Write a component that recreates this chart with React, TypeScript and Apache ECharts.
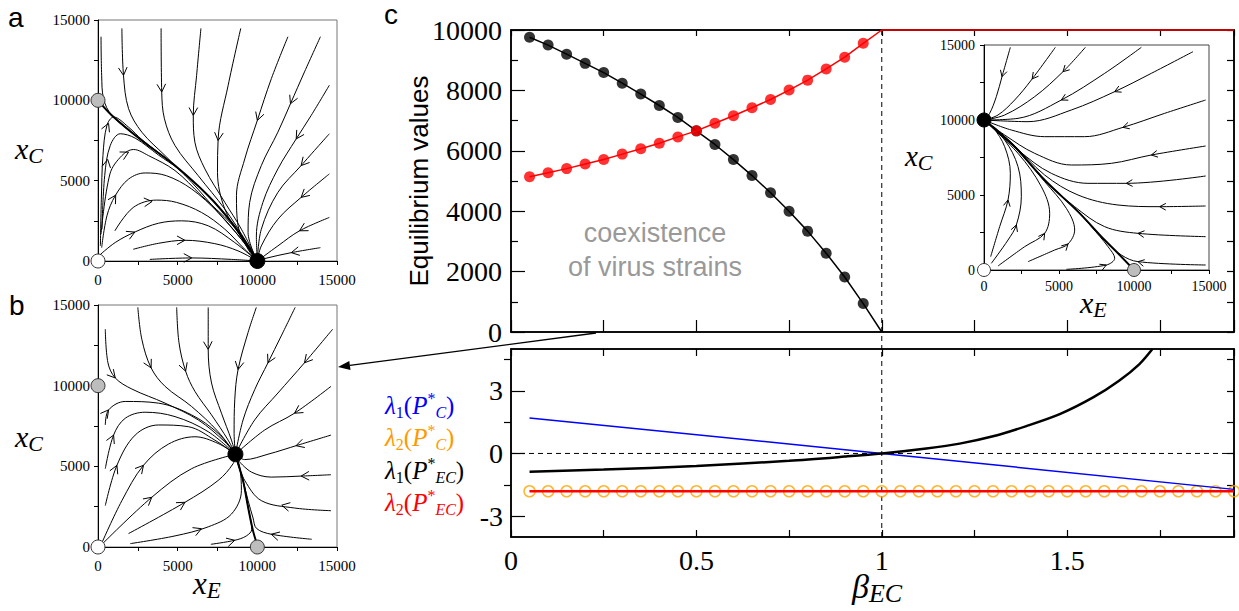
import React, { useEffect, useRef } from 'react';
import * as echarts from 'echarts';

const SERIF = 'Liberation Serif, Times New Roman, serif';
const SANS = 'Liberation Sans, Arial, sans-serif';

// ---------- panel c (top): equilibrium values ----------
const betaDots = [0.05, 0.1, 0.15, 0.2, 0.25, 0.3, 0.35, 0.4, 0.45, 0.5, 0.55, 0.6, 0.65, 0.7, 0.75, 0.8, 0.85, 0.9, 0.95];
const blackDots = [9760, 9500, 9200, 8895, 8590, 8240, 7880, 7500, 7105, 6660, 6210, 5710, 5180, 4610, 4000, 3340, 2610, 1820, 940];
const redDots = [5140, 5270, 5410, 5560, 5710, 5890, 6070, 6250, 6460, 6660, 6910, 7160, 7425, 7700, 8010, 8340, 8710, 9100, 9560];
const blackTail = [[1, 0]];
const redTail = [[1, 10000], [1.95, 10000]];
const transitionTop = [[1, 10000], [1, -560]];

// ---------- panel c (bottom): eigenvalues ----------
const lam1C = [[0.05, 1.7], [1, 0], [1.95, -1.72]];
const lam1EC = [[0.05, -0.88], [0.25, -0.77], [0.5, -0.6], [0.75, -0.35], [0.9, -0.15], [1, 0], [1.12, 0.24], [1.21, 0.47], [1.3, 0.82], [1.39, 1.31], [1.48, 1.88], [1.57, 2.68], [1.64, 3.48], [1.695, 4.28], [1.73, 5.0]];
const lam2EC = [[0.05, -1.81], [1.95, -1.81]];
const betaCircles = [0.05, 0.1, 0.15, 0.2, 0.25, 0.3, 0.35, 0.4, 0.45, 0.5, 0.55, 0.6, 0.65, 0.7, 0.75, 0.8, 0.85, 0.9, 0.95, 1.0, 1.05, 1.1, 1.15, 1.2, 1.25, 1.3, 1.35, 1.4, 1.45, 1.5, 1.55, 1.6, 1.65, 1.7, 1.75, 1.8, 1.85, 1.9, 1.95];
const lam2CVals = [-1.81, -1.81, -1.81, -1.81, -1.81, -1.81, -1.81, -1.81, -1.81, -1.81, -1.81, -1.81, -1.81, -1.81, -1.81, -1.81, -1.81, -1.81, -1.81, -1.81, -1.81, -1.81, -1.81, -1.81, -1.81, -1.81, -1.81, -1.81, -1.81, -1.81, -1.81, -1.81, -1.81, -1.81, -1.81, -1.81, -1.81, -1.81, -1.81];
const zeroLine = [[0, 0], [1.95, 0]];
const transitionLow = [[1, -4], [1, 5]];
const lowMajorTicks = [-3, 0, 3];
const lowMinorTicks = [-1.5, 1.5, 4.5];
const lowAllTicks = [-3, -1.5, 0, 1.5, 3, 4.5];
const lowXLabels = [0, 0.5, 1, 1.5];

// ---------- panel a: streamlines ----------
const streamsA = [
  [[0, 10000], [875, 9060], [2750, 7500], [4830, 5940], [6920, 4060], [8380, 2400], [9420, 940], [10000, 0]],
  [[190, 13960], [230, 11560], [350, 10100], [875, 9060], [2750, 7500], [4830, 5940], [6920, 4060], [8380, 2400], [9420, 940], [10000, 0]],
  [[1500, 14480], [1600, 11560], [1920, 9480], [2750, 8020], [4210, 6560], [5880, 4900], [7540, 3020], [9000, 1350], [10000, 0]],
  [[3960, 14480], [4000, 10520], [4170, 8850], [4830, 7190], [6290, 5310], [7960, 3230], [9210, 1350], [10000, 0]],
  [[6460, 14480], [6190, 11560], [5980, 9060], [6080, 7400], [6710, 5730], [7960, 3650], [9000, 1980], [10000, 0]],
  [[8960, 14480], [8170, 10940], [7540, 7600], [7500, 5520], [7960, 3230], [9000, 1450], [10000, 0]],
  [[11920, 13960], [10880, 11350], [10000, 8750], [9210, 6350], [8690, 4060], [8790, 2190], [9420, 730], [10000, 0]],
  [[13960, 13960], [12960, 11770], [12080, 9790], [11290, 8020], [10250, 5940], [9520, 3650], [9420, 1770], [10000, 0]],
  [[14520, 10940], [13380, 9060], [12440, 7600], [11290, 5730], [10350, 3650], [9940, 1560], [10000, 0]],
  [[14520, 7920], [12750, 5940], [11290, 4270], [10250, 1980], [10000, 0]],
  [[14520, 5420], [12750, 3960], [11290, 2600], [10250, 940], [10000, 0]],
  [[14520, 2710], [12650, 1880], [11290, 940], [10000, 0]],
  [[13960, 830], [12130, 520], [10460, 150], [10000, 0]],
  [[150, 940], [210, 3850], [310, 6560], [560, 8440], [980, 8960], [1920, 8330], [2750, 7560], [4830, 5940], [6920, 4060], [8380, 2400], [9420, 940], [10000, 0]],
  [[250, 1980], [420, 5310], [770, 7190], [1400, 7920], [2330, 7650], [3790, 6600], [5040, 5730], [6920, 4060], [8380, 2400], [9420, 940], [10000, 0]],
  [[190, 1670], [750, 5420], [1500, 6560], [2230, 6940], [3170, 6560], [4830, 5630], [6500, 4060], [8380, 2290], [9420, 900], [10000, 0]],
  [[230, 830], [560, 2810], [1080, 4060], [1920, 5100], [2960, 5480], [4290, 5310], [5880, 4480], [7540, 3020], [9000, 1350], [10000, 0]],
  [[1060, 1880], [2210, 3330], [3670, 3790], [4920, 3650], [6500, 3020], [7960, 1980], [9210, 730], [10000, 0]],
  [[40, 310], [1080, 1150], [2330, 1810], [3790, 2350], [5250, 2500], [6920, 2190], [8580, 1150], [10000, 0]],
  [[2210, 730], [3790, 1100], [5460, 1290], [7330, 1080], [8790, 630], [10000, 0]],
  [[3250, 100], [5880, 190], [8380, 100], [10000, 0]],
];
const arrowsA = [
  [1650, 11560, 2], [4000, 10520, 3], [5980, 9060, 4], [7540, 7500, 5], [10000, 8750, 6], [12080, 9790, 7],
  [12440, 7600, 8], [12750, 5940, 9], [12750, 3960, 10], [12650, 1880, 11], [12130, 520, 12], [560, 8650, 13],
  [460, 6350, 14], [1920, 6770, 15], [1290, 3960, 16], [3380, 3750, 17], [2330, 1770, 18], [5460, 1250, 19], [5880, 190, 20],
];
const eqAGrey = [[0, 10000]];
const eqAWhite = [[0, 0]];
const eqABlack = [[10000, 0]];

// ---------- panel b: streamlines ----------
const streamsB = [
  [[10040, 0], [9730, 1000], [9420, 2460], [9100, 4130], [8790, 5170], [8625, 5750]],
  [[458, 13500], [625, 11417], [1083, 10479], [2125, 9792], [4208, 8917], [6292, 7875], [7958, 6521], [8625, 5750]],
  [[2500, 14854], [2750, 12875], [3333, 11104], [4208, 9958], [5875, 8708], [7542, 7146], [8625, 5750]],
  [[4938, 14854], [5083, 12667], [5500, 10896], [6083, 9646], [7125, 8188], [8167, 6625], [8625, 5750]],
  [[6917, 14854], [6917, 12250], [7125, 10167], [7750, 8292], [8375, 6625], [8625, 5750]],
  [[9938, 14854], [9417, 13292], [8792, 11000], [8583, 9125], [8542, 7042], [8625, 5750]],
  [[12375, 14854], [11500, 13083], [10667, 11417], [9833, 9750], [9104, 7875], [8625, 5750]],
  [[14729, 13500], [12958, 11417], [11292, 9542], [9833, 7875], [8625, 5750]],
  [[14625, 9958], [12333, 8292], [10458, 7250], [8625, 5750]],
  [[14625, 6938], [12542, 6313], [10667, 5750], [9208, 5417], [8625, 5750]],
  [[14625, 4479], [12750, 4396], [10875, 4333], [9625, 4646], [8792, 5375]],
  [[14625, 2250], [12333, 2417], [10250, 2875], [9208, 4125], [8792, 5167]],
  [[13417, 479], [10875, 792], [9950, 1150], [9730, 1800], [9420, 2880], [9100, 4130], [8790, 5170], [8625, 5750]],
  [[458, 7563], [667, 8500], [1708, 9021], [3792, 8917], [5875, 8188], [7542, 7042], [8625, 5750]],
  [[458, 4854], [979, 6938], [1708, 7979], [2958, 8354], [4833, 8083], [6917, 7146], [8625, 5750]],
  [[458, 2563], [1188, 5063], [2333, 6938], [3792, 7563], [5667, 7458], [7333, 6625], [8625, 5750]],
  [[250, 271], [1500, 2875], [2854, 5063], [4417, 6375], [6083, 6833], [7542, 6417], [8625, 5750]],
  [[250, 167], [3375, 3083], [5875, 4854], [8625, 5750]],
  [[1917, 833], [5458, 2771], [7542, 4125], [8479, 5167], [8625, 5750]],
  [[2021, 208], [4833, 688], [6917, 1250], [8375, 2042], [9000, 3500], [8896, 4958], [8625, 5750]],
  [[7083, 167], [8583, 417], [9313, 688], [9650, 1100], [9420, 2460], [9100, 4130], [8790, 5170], [8625, 5750]],
];
const arrowsB = [
  [1083, 10479, 1], [3333, 11104, 2], [5500, 10896, 3], [6917, 12250, 4], [8792, 11000, 5], [10667, 11417, 6],
  [12958, 11417, 7], [12333, 8292, 8], [12438, 6250, 9], [12750, 4396, 10], [11500, 2458, 11], [10875, 792, 12],
  [667, 8500, 13], [979, 6938, 14], [1188, 5063, 15], [2854, 5063, 16], [3375, 3083, 17], [5458, 2771, 18],
  [6500, 1104, 19], [8583, 417, 20],
];
const eqBGrey = [[0, 10000], [10000, 0]];
const eqBWhite = [[0, 0]];
const eqBBlack = [[8625, 5750]];

// ---------- inset: streamlines ----------
const streamsI = [
  [[10000, 0], [8933, 1111], [8044, 2000], [6267, 3889], [4044, 6000], [2044, 8222], [711, 9444], [0, 10000]],
  [[1756, 14844], [1200, 12889], [822, 11556], [378, 10444], [0, 10000]],
  [[4756, 14844], [3156, 12667], [2044, 11333], [933, 10333], [0, 10000]],
  [[6756, 14844], [5267, 13222], [3378, 11556], [1378, 10333], [0, 10000]],
  [[10489, 14844], [8044, 13111], [5156, 11333], [2267, 10111], [0, 10000]],
  [[13933, 14556], [11156, 13111], [8711, 11889], [5822, 10667], [2933, 9889], [0, 10000]],
  [[14778, 11333], [12044, 10444], [9267, 9511], [6711, 8889], [4044, 8889], [1822, 9333], [0, 10000]],
  [[14778, 8267], [11156, 7667], [8489, 7111], [5822, 7000], [3378, 7778], [1378, 9000], [0, 10000]],
  [[14778, 6267], [9489, 5778], [6933, 5778], [4489, 6444], [2267, 8000], [0, 10000]],
  [[14778, 4267], [11711, 4222], [8933, 4333], [6267, 5000], [4044, 6333], [1822, 8500], [0, 10000]],
  [[14778, 2222], [10267, 2444], [8044, 2889], [6044, 4222], [4044, 6000], [2044, 8222], [0, 10000]],
  [[14778, 333], [10267, 556], [9156, 1000], [8044, 2000], [6267, 3889], [4044, 6000], [2044, 8222], [711, 9444], [0, 10000]],
  [[5489, 44], [8156, 333], [8711, 778], [8267, 1556], [7156, 2889], [6267, 3889], [4044, 6000], [2044, 8222], [711, 9444], [0, 10000]],
  [[444, 889], [1044, 2889], [1600, 4667], [1756, 6444], [1378, 8222], [600, 9511], [0, 10000]],
  [[489, 444], [1600, 2000], [2156, 3000], [2489, 4889], [2267, 6889], [1378, 8667], [0, 10000]],
  [[933, 267], [2711, 1556], [4044, 2444], [4378, 3778], [3822, 5556], [2267, 7778], [0, 10000]],
  [[2933, 556], [4711, 1333], [5600, 1733], [6044, 2667], [5489, 4111], [4044, 5889], [2044, 8178], [0, 10000]],
];
const arrowsI = [
  [1200, 12889, 1], [3156, 12778, 2], [5267, 13222, 3], [5156, 11333, 4], [8711, 11889, 5], [9267, 9511, 6],
  [11156, 7667, 7], [9489, 5778, 8], [11711, 4222, 9], [10267, 2444, 10], [10267, 556, 11], [8156, 333, 12],
  [1600, 4667, 13], [2156, 3000, 14], [4044, 2444, 15], [5600, 1733, 16],
];
const eqIGrey = [[10000, 0]];
const eqIWhite = [[0, 0]];
const eqIBlack = [[0, 10000]];

// ---------- helpers ----------
function serifLabel(fontSize: number, margin: number, fmt: (v: number) => string) {
  return {
    show: true, margin,
    formatter: (v: number) => {
      const s = fmt(v);
      return s === '' ? '' : `{t|${s}}`;
    },
    rich: { t: { fontFamily: SERIF, fontSize, color: '#000', lineHeight: Math.round(fontSize * 1.1) } },
  };
}

function phaseAxis(gi: number, fontSize: number, margin: number) {
  return {
    type: 'value', gridIndex: gi, min: 0, max: 15000, interval: 5000,
    axisLine: { show: true, onZero: false, lineStyle: { color: '#000', width: 1 } },
    axisTick: { show: true, inside: false, length: 4, lineStyle: { color: '#000' } },
    minorTick: { show: true, splitNumber: 2, length: 4, lineStyle: { color: '#000' } },
    splitLine: { show: false }, minorSplitLine: { show: false },
    axisLabel: serifLabel(fontSize, margin, (v) => String(v)),
  };
}

function streamSeries(streams: number[][][], ai: number, heavyWidth: number) {
  return streams.map((s, i) => ({
    type: 'line', xAxisIndex: ai, yAxisIndex: ai, data: s, smooth: 0.35, symbol: 'none', showSymbol: false,
    silent: true, z: 3, lineStyle: { color: '#000', width: i === 0 ? heavyWidth : 1 },
  }));
}

function arrowSeries(streams: number[][][], arrows: number[][], ai: number, len: number) {
  return {
    type: 'custom', xAxisIndex: ai, yAxisIndex: ai, silent: true, z: 4, data: arrows,
    renderItem: (_params: any, api: any) => {
      const p = api.coord([api.value(0), api.value(1)]);
      const pts = streams[api.value(2)].map((q) => api.coord(q));
      let best = 0, bd = Infinity, proj = p, bt = 0;
      for (let i = 0; i < pts.length - 1; i++) {
        const a = pts[i], b = pts[i + 1];
        const vx = b[0] - a[0], vy = b[1] - a[1];
        const l2 = vx * vx + vy * vy || 1;
        let t = ((p[0] - a[0]) * vx + (p[1] - a[1]) * vy) / l2;
        t = Math.max(0, Math.min(1, t));
        const cx = a[0] + t * vx, cy = a[1] + t * vy;
        const d = (p[0] - cx) ** 2 + (p[1] - cy) ** 2;
        if (d < bd) { bd = d; best = i; proj = [cx, cy]; bt = t; }
      }
      const norm = (a: number[], b: number[]) => {
        const dx = b[0] - a[0], dy = b[1] - a[1];
        const L = Math.hypot(dx, dy) || 1;
        return [dx / L, dy / L];
      };
      let d = norm(pts[best], pts[best + 1]);
      if (bt < 0.25 && best > 0) {
        const q = norm(pts[best - 1], pts[best]);
        d = [d[0] + q[0], d[1] + q[1]];
      } else if (bt > 0.75 && best + 2 < pts.length) {
        const q = norm(pts[best + 1], pts[best + 2]);
        d = [d[0] + q[0], d[1] + q[1]];
      }
      const L = Math.hypot(d[0], d[1]) || 1;
      const bx = -d[0] / L, by = -d[1] / L;
      const ang = 0.5, c = Math.cos(ang), s = Math.sin(ang);
      const l1 = [proj[0] + len * (bx * c - by * s), proj[1] + len * (bx * s + by * c)];
      const l2 = [proj[0] + len * (bx * c + by * s), proj[1] + len * (-bx * s + by * c)];
      return { type: 'polyline', shape: { points: [l1, proj, l2] }, style: { stroke: '#000', fill: 'none', lineWidth: 1 } };
    },
  };
}

function eqSeries(data: number[][], ai: number, fill: string, size: number) {
  return {
    type: 'scatter', xAxisIndex: ai, yAxisIndex: ai, data, symbol: 'circle', symbolSize: size, clip: false, silent: true, z: 6,
    itemStyle: { color: fill, borderColor: fill === '#000' ? '#000' : '#333', borderWidth: 1, opacity: 1 },
  };
}

function subLabel(x: number, y: number, main: string, sub: string, mainSize: number, subSize: number, shift: number) {
  const H = Math.round(mainSize * 1.2);
  return {
    type: 'text', x, y, silent: true,
    style: {
      text: `{m|${main}}{s|${sub}}`, align: 'left', verticalAlign: 'middle',
      rich: {
        m: { fontFamily: SERIF, fontStyle: 'italic', fontSize: mainSize, lineHeight: H, fill: '#000' },
        s: { fontFamily: SERIF, fontStyle: 'italic', fontSize: subSize, lineHeight: H - 2 * shift, verticalAlign: 'bottom', fill: '#000' },
      },
    },
  };
}

function legendLine(x: number, y: number, idx: string, sub: string, color: string) {
  return {
    type: 'text', x, y, silent: true,
    style: {
      text: `{l|λ}{n|${idx}}{p|(}{i|P}{u|*}{s|${sub}}{p|)}`, align: 'left', verticalAlign: 'middle',
      rich: {
        l: { fontFamily: SERIF, fontStyle: 'italic', fontSize: 25, lineHeight: 30, fill: color },
        p: { fontFamily: SERIF, fontSize: 25, lineHeight: 30, fill: color },
        i: { fontFamily: SERIF, fontStyle: 'italic', fontSize: 25, lineHeight: 30, fill: color },
        n: { fontFamily: SERIF, fontSize: 16, lineHeight: 20, verticalAlign: 'bottom', fill: color },
        u: { fontFamily: SERIF, fontSize: 16, lineHeight: 8, verticalAlign: 'top', fill: color },
        s: { fontFamily: SERIF, fontStyle: 'italic', fontSize: 16, lineHeight: 10, verticalAlign: 'bottom', fill: color },
      },
    },
  };
}

function buildOption() {
  const grids = [
    { left: 98, top: 20, width: 239, height: 241, show: true, borderColor: '#777', borderWidth: 1, backgroundColor: '#fff' },
    { left: 98, top: 305, width: 239, height: 242, show: true, borderColor: '#777', borderWidth: 1, backgroundColor: '#fff' },
    { left: 984, top: 45, width: 225, height: 225, show: true, borderColor: '#444', borderWidth: 1, backgroundColor: '#fff' },
    { left: 511, top: 30, width: 723, height: 302, show: true, borderColor: '#000', borderWidth: 1.5, backgroundColor: 'transparent' },
    { left: 511, top: 349, width: 723, height: 188, show: true, borderColor: '#000', borderWidth: 1.5, backgroundColor: 'transparent' },
  ];

  const blackAxis = { show: true, onZero: false, lineStyle: { color: '#000', width: 1.5 } };
  const xAxes: any[] = [
    phaseAxis(0, 15, 10),
    phaseAxis(1, 15, 10),
    phaseAxis(2, 14, 9),
    {
      type: 'value', gridIndex: 3, min: 0, max: 1.95, interval: 0.25, axisLine: blackAxis,
      axisTick: { show: true, inside: true, length: 12, lineStyle: { color: '#000', width: 1.2 } },
      axisLabel: { show: false }, splitLine: { show: false },
    },
    {
      type: 'value', gridIndex: 3, position: 'top', min: 0, max: 1.95, interval: 0.25, axisLine: blackAxis,
      axisTick: { show: true, inside: true, length: 6, lineStyle: { color: '#000', width: 1.2 } },
      axisLabel: { show: false }, splitLine: { show: false },
    },
    {
      type: 'value', gridIndex: 4, min: 0, max: 1.95, interval: 0.25, axisLine: blackAxis,
      axisTick: { show: true, inside: true, length: 7, lineStyle: { color: '#000', width: 1.2 } },
      axisLabel: serifLabel(28, 8, (v) => (lowXLabels.some((l) => Math.abs(l - v) < 1e-6) ? String(Math.round(v * 10) / 10) : '')),
      splitLine: { show: false },
    },
    {
      type: 'value', gridIndex: 4, position: 'top', min: 0, max: 1.95, interval: 0.25, axisLine: blackAxis,
      axisTick: { show: true, inside: true, length: 7, lineStyle: { color: '#000', width: 1.2 } },
      axisLabel: { show: false }, splitLine: { show: false },
    },
  ];
  const yAxes: any[] = [
    phaseAxis(0, 15, 8),
    phaseAxis(1, 15, 8),
    phaseAxis(2, 14, 9),
    {
      type: 'value', gridIndex: 3, min: 0, max: 10000, interval: 2000, axisLine: blackAxis,
      axisTick: { show: true, inside: true, length: 14, lineStyle: { color: '#000', width: 1.2 } },
      minorTick: { show: true, splitNumber: 2, length: 7, lineStyle: { color: '#000', width: 1.2 } },
      axisLabel: serifLabel(28, 9, (v) => String(v)),
      splitLine: { show: false }, minorSplitLine: { show: false },
    },
    {
      type: 'value', gridIndex: 3, position: 'right', min: 0, max: 10000, interval: 2000, axisLine: blackAxis,
      axisTick: { show: true, inside: true, length: 7, lineStyle: { color: '#000', width: 1.2 } },
      minorTick: { show: true, splitNumber: 2, length: 7, lineStyle: { color: '#000', width: 1.2 } },
      axisLabel: { show: false }, splitLine: { show: false }, minorSplitLine: { show: false },
    },
    {
      type: 'value', gridIndex: 4, min: -4, max: 5, axisLine: blackAxis,
      axisTick: { show: true, inside: true, length: 14, customValues: lowMajorTicks, lineStyle: { color: '#000', width: 1.2 } },
      axisLabel: { ...serifLabel(28, 8, (v) => String(v)), customValues: lowMajorTicks },
      splitLine: { show: false },
    },
    {
      type: 'value', gridIndex: 4, min: -4, max: 5, axisLine: { show: false },
      axisTick: { show: true, inside: true, length: 7, customValues: lowMinorTicks, lineStyle: { color: '#000', width: 1.2 } },
      axisLabel: { show: false }, splitLine: { show: false },
    },
    {
      type: 'value', gridIndex: 4, position: 'right', min: -4, max: 5, axisLine: blackAxis,
      axisTick: { show: true, inside: true, length: 7, customValues: lowAllTicks, lineStyle: { color: '#000', width: 1.2 } },
      axisLabel: { show: false }, splitLine: { show: false },
    },
  ];

  const dash = [5, 4];
  const series: any[] = [
    ...streamSeries(streamsA, 0, 2),
    arrowSeries(streamsA, arrowsA, 0, 9),
    eqSeries(eqAGrey, 0, '#bdbdbd', 14),
    eqSeries(eqAWhite, 0, '#fff', 14),
    eqSeries(eqABlack, 0, '#000', 15),

    ...streamSeries(streamsB, 1, 2),
    arrowSeries(streamsB, arrowsB, 1, 9),
    eqSeries(eqBGrey, 1, '#bdbdbd', 14),
    eqSeries(eqBWhite, 1, '#fff', 14),
    eqSeries(eqBBlack, 1, '#000', 15),

    ...streamSeries(streamsI, 2, 2),
    arrowSeries(streamsI, arrowsI, 2, 7),
    eqSeries(eqIGrey, 2, '#bdbdbd', 13),
    eqSeries(eqIWhite, 2, '#fff', 13),
    eqSeries(eqIBlack, 2, '#000', 14),

    // top panel c
    {
      type: 'line', xAxisIndex: 3, yAxisIndex: 3, data: transitionTop, symbol: 'none', clip: false, silent: true, z: 2,
      lineStyle: { color: '#000', width: 1, type: dash },
    },
    {
      type: 'line', xAxisIndex: 3, yAxisIndex: 3, data: betaDots.map((b, i) => [b, blackDots[i]]).concat(blackTail),
      symbol: 'none', clip: false, silent: true, z: 3, lineStyle: { color: '#000', width: 1.5 },
    },
    {
      type: 'scatter', xAxisIndex: 3, yAxisIndex: 3, data: betaDots.map((b, i) => [b, blackDots[i]]),
      symbol: 'circle', symbolSize: 11, silent: true, z: 4, itemStyle: { color: '#000' },
    },
    {
      type: 'line', xAxisIndex: 3, yAxisIndex: 3, data: betaDots.map((b, i) => [b, redDots[i]]).concat(redTail),
      symbol: 'none', clip: false, silent: true, z: 5, lineStyle: { color: '#ff0000', width: 1.5 },
    },
    {
      type: 'scatter', xAxisIndex: 3, yAxisIndex: 3, data: betaDots.map((b, i) => [b, redDots[i]]),
      symbol: 'circle', symbolSize: 11, silent: true, z: 6, itemStyle: { color: '#ff0000' },
    },

    // bottom panel c
    {
      type: 'line', xAxisIndex: 5, yAxisIndex: 5, data: zeroLine, symbol: 'none', silent: true, z: 2,
      lineStyle: { color: '#000', width: 1, type: dash },
    },
    {
      type: 'line', xAxisIndex: 5, yAxisIndex: 5, data: transitionLow, symbol: 'none', silent: true, z: 2,
      lineStyle: { color: '#000', width: 1, type: dash },
    },
    {
      type: 'line', xAxisIndex: 5, yAxisIndex: 5, data: lam2EC, symbol: 'none', silent: true, z: 2,
      lineStyle: { color: '#ffa500', width: 1.5 },
    },
    {
      type: 'scatter', xAxisIndex: 5, yAxisIndex: 5, data: betaCircles.map((b, i) => [b, lam2CVals[i]]),
      symbol: 'circle', symbolSize: 11, clip: false, silent: true, z: 3,
      itemStyle: { color: 'rgba(0,0,0,0)', borderColor: '#ffa500', borderWidth: 1.5 },
    },
    {
      type: 'line', xAxisIndex: 5, yAxisIndex: 5, data: lam2EC, symbol: 'none', silent: true, z: 5,
      lineStyle: { color: '#ff0000', width: 2.5 },
    },
    {
      type: 'line', xAxisIndex: 5, yAxisIndex: 5, data: lam1C, symbol: 'none', silent: true, z: 6,
      lineStyle: { color: '#0000ff', width: 1.5 },
    },
    {
      type: 'line', xAxisIndex: 5, yAxisIndex: 5, data: lam1EC, symbol: 'none', smooth: 0.3, silent: true, z: 7,
      lineStyle: { color: '#000', width: 2.5 },
    },
  ];

  const dir = [338 - 596, 367 - 333];
  const dl = Math.hypot(dir[0], dir[1]);
  const u = [dir[0] / dl, dir[1] / dl];
  const base = [338 - 12 * u[0], 367 - 12 * u[1]];
  const pp = [-u[1] * 4.5, u[0] * 4.5];

  const graphic: any[] = [
    { type: 'text', x: 8, y: 17, silent: true, style: { text: 'a', fontFamily: SANS, fontSize: 28, fill: '#000', verticalAlign: 'middle' } },
    { type: 'text', x: 9, y: 305, silent: true, style: { text: 'b', fontFamily: SANS, fontSize: 28, fill: '#000', verticalAlign: 'middle' } },
    { type: 'text', x: 384, y: 14, silent: true, style: { text: 'c', fontFamily: SANS, fontSize: 28, fill: '#000', verticalAlign: 'middle' } },
    subLabel(15, 148, 'x', 'C', 30, 22, 8),
    subLabel(15, 436, 'x', 'C', 30, 22, 8),
    subLabel(193, 583, 'x', 'E', 31, 23, 8),
    subLabel(905, 156, 'x', 'C', 29, 22, 8),
    subLabel(1080, 302, 'x', 'E', 30, 22, 8),
    subLabel(852, 586, 'β', 'EC', 34, 26, 7),
    {
      type: 'text', x: 419, y: 181, rotation: Math.PI / 2, silent: true,
      style: { text: 'Equilibrium values', fontFamily: SANS, fontSize: 26, fill: '#000', align: 'center', verticalAlign: 'middle' },
    },
    {
      type: 'text', x: 655, y: 250, silent: true,
      style: { text: 'coexistence\nof virus strains', fontFamily: SANS, fontSize: 27, lineHeight: 34, fill: '#999', align: 'center', verticalAlign: 'middle' },
    },
    legendLine(385, 405, '1', 'C', '#0000ff'),
    legendLine(385, 437.5, '2', 'C', '#ff9900'),
    legendLine(385, 470, '1', 'EC', '#000'),
    legendLine(385, 502.5, '2', 'EC', '#ff0000'),
    { type: 'line', silent: true, shape: { x1: 596, y1: 333, x2: base[0], y2: base[1] }, style: { stroke: '#000', lineWidth: 1.3 } },
    {
      type: 'polygon', silent: true,
      shape: { points: [[338, 367], [base[0] + pp[0], base[1] + pp[1]], [base[0] - pp[0], base[1] - pp[1]]] },
      style: { fill: '#000' },
    },
  ];

  return { animation: false, backgroundColor: '#fff', grid: grids, xAxis: xAxes, yAxis: yAxes, series, graphic };
}

export default function App() {
  const ref = useRef<HTMLDivElement>(null);
  useEffect(() => {
    if (!ref.current) return;
    const chart = echarts.init(ref.current, undefined, { renderer: 'svg' });
    chart.setOption(buildOption() as any);
    return () => chart.dispose();
  }, []);
  return <div ref={ref} style={{ position: 'absolute', left: 0, top: 0, width: 1239, height: 611 }} />;
}
